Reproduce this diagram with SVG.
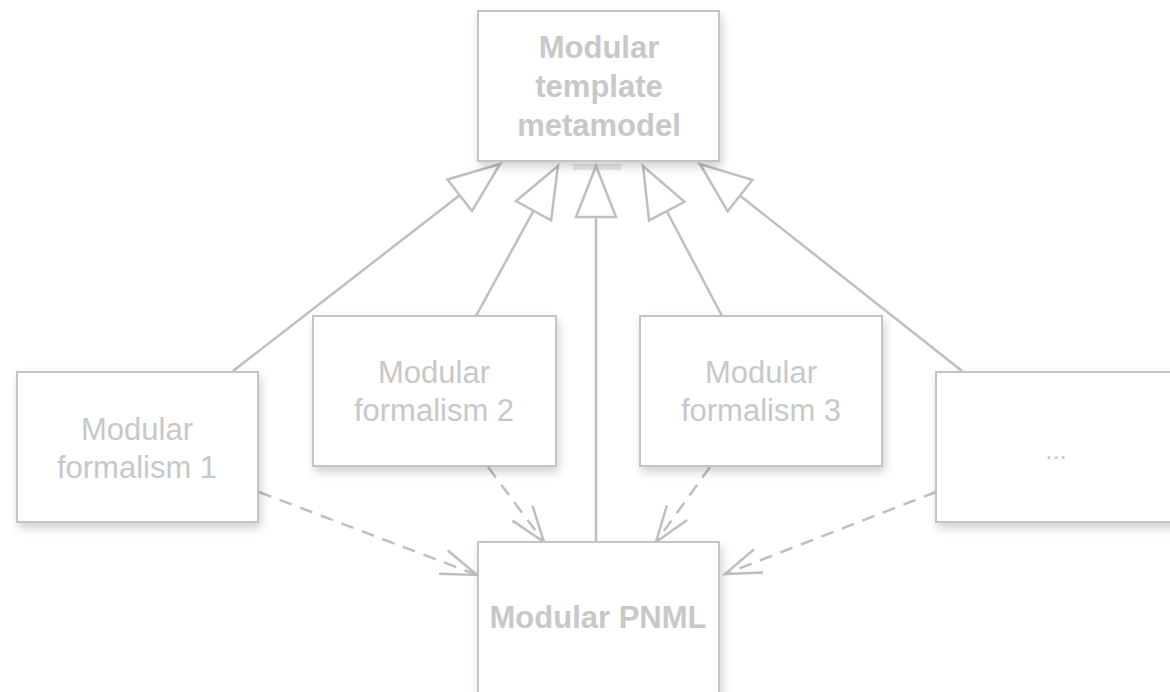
<svg xmlns="http://www.w3.org/2000/svg" width="1170" height="692" viewBox="0 0 1170 692">
<defs>
<style>
.box{fill:#ffffff;stroke:#c4c4c4;stroke-width:2;filter:url(#sh)}
.t{font-family:"Liberation Sans",Arial,sans-serif;font-size:31px;fill:#c8c8c8;text-anchor:middle}
.b{font-weight:bold}
.gen{fill:none;stroke:#bfbfbf;stroke-width:2.5;marker-end:url(#tri)}
.dep{fill:none;stroke:#bfbfbf;stroke-width:2.5;stroke-dasharray:13 9;marker-end:url(#vee)}
</style>
<filter id="sh" x="-20%" y="-20%" width="140%" height="150%">
<feDropShadow dx="2" dy="5" stdDeviation="5" flood-color="#000" flood-opacity="0.18"/>
</filter>
<marker id="tri" markerUnits="userSpaceOnUse" orient="auto" overflow="visible" refX="0" refY="0" markerWidth="60" markerHeight="50">
<path d="M0,0 L-51,-20 L-51,20 Z" fill="#ffffff" stroke="#bfbfbf" stroke-width="2.5" stroke-linejoin="miter"/>
</marker>
<marker id="vee" markerUnits="userSpaceOnUse" orient="auto" overflow="visible" refX="0" refY="0" markerWidth="50" markerHeight="30">
<path d="M-36,-12.5 L0,0 L-36,12.5" fill="none" stroke="#bfbfbf" stroke-width="2.5"/>
</marker>
</defs>
<rect width="1170" height="692" fill="#ffffff"/>
<rect x="573" y="164" width="48" height="6" fill="#e8e8e8"/>
<g id="connectors">
<path class="gen" d="M233,371 L500,164"/>
<path class="gen" d="M476,316 L558,166"/>
<path class="gen" d="M596,542 L596,166"/>
<path class="gen" d="M722,316 L643,166"/>
<path class="gen" d="M962,371 L700,164"/>
<path class="dep" d="M259,492 L477,575"/>
<path class="dep" d="M488,467 L544,542"/>
<path class="dep" d="M710,467 L656,542"/>
<path class="dep" d="M936,492 L725,574"/>
</g>
<g id="metamodel">
<rect class="box" x="478" y="11" width="241" height="150"/>
<text class="t b" x="599" y="58">Modular</text>
<text class="t b" x="599" y="97">template</text>
<text class="t b" x="599" y="136">metamodel</text>
</g>
<g id="formalism1">
<rect class="box" x="17" y="372" width="241" height="150"/>
<text class="t" x="137" y="440">Modular</text>
<text class="t" x="137" y="478">formalism 1</text>
</g>
<g id="formalism2">
<rect class="box" x="313" y="316" width="243" height="150"/>
<text class="t" x="434" y="383">Modular</text>
<text class="t" x="434" y="421">formalism 2</text>
</g>
<g id="formalism3">
<rect class="box" x="640" y="316" width="242" height="150"/>
<text class="t" x="761" y="383">Modular</text>
<text class="t" x="761" y="421">formalism 3</text>
</g>
<g id="more">
<rect class="box" x="936" y="372" width="241" height="150"/>
<text class="t" x="1056" y="459" style="font-size:26px">...</text>
</g>
<g id="pnml">
<rect class="box" x="478" y="542" width="241" height="160"/>
<text class="t b" x="598" y="628">Modular PNML</text>
</g>
</svg>
